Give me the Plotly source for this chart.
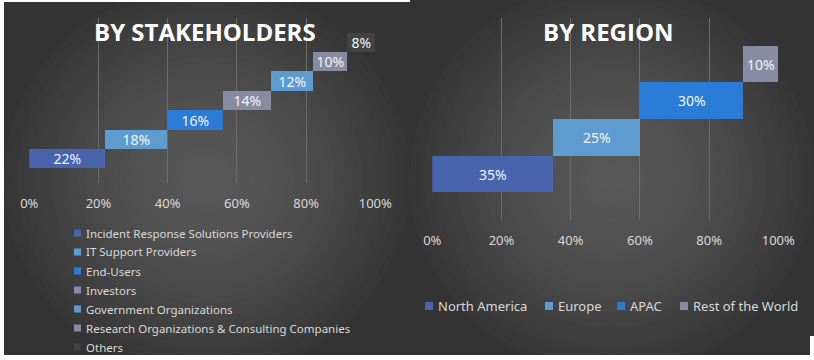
import plotly.graph_objects as go

W, H = 814, 360

# ---------------- data ----------------
stake_names = [
    "Incident Response Solutions Providers",
    "IT Support Providers",
    "End-Users",
    "Investors",
    "Government Organizations",
    "Research Organizations & Consulting Companies",
    "Others",
]
stake_values = [22, 18, 16, 14, 12, 10, 8]
stake_colors = ["#4864ad", "#5e9ccf", "#2a7cd6", "#878ca3", "#5e9ccf", "#878ca3", "#424242"]

region_names = ["North America", "Europe", "APAC", "Rest of the World"]
region_values = [35, 25, 30, 10]
region_colors = ["#4864ad", "#5e9ccf", "#2a7cd6", "#878ca3"]

tick_vals = [0, 20, 40, 60, 80, 100]
tick_text = ["0%", "20%", "40%", "60%", "80%", "100%"]

FONT = "Noto Sans, Open Sans, sans-serif"
TXT = "#d9d9d9"


def px(x):
    return x / W


def py(y):
    return 1 - y / H


fig = go.Figure()


def add_waterfall(names, values, colors, xa, ya):
    base = 0
    for i, (n, v, c) in enumerate(zip(names, values, colors)):
        fig.add_trace(go.Bar(
            y=[i], x=[v], base=[base], orientation="h", name=n,
            marker=dict(color=c, line=dict(width=0)), width=1,
            text=[f"{v}%"], textposition="inside", insidetextanchor="middle",
            textangle=0, constraintext="none",
            insidetextfont=dict(color="#f4f4f4", size=14, family=FONT),
            xaxis=xa, yaxis=ya, showlegend=False, hoverinfo="name+x",
        ))
        base += v


add_waterfall(stake_names, stake_values, stake_colors, "x", "y")
add_waterfall(region_names, region_values, region_colors, "x2", "y2")

xcommon = dict(range=[0, 100], tickvals=tick_vals, ticktext=tick_text, automargin=False,
               showgrid=True, gridcolor="#6c6c6c", gridwidth=1, zeroline=False,
               showline=False, ticks="outside", ticklen=8, tickcolor="rgba(0,0,0,0)",
               tickfont=dict(size=13, color=TXT, family=FONT), fixedrange=True)
ycommon = dict(visible=False, fixedrange=True, automargin=False)

# ---------------- background panels (radial-ish gradient) ----------------
shapes = []


def panel(x0, x1, y0, y1, cx, cy, rx, ry):
    shapes.append(dict(type="rect", xref="paper", yref="paper", x0=px(x0), x1=px(x1),
                       y0=py(y1), y1=py(y0), fillcolor="#333333", line=dict(width=0),
                       layer="below"))
    n = 30
    c0, c1 = 0x36, 0x58
    for k in range(n):
        f = 1 - k / n
        v = int(round(c0 + (c1 - c0) * (1 - f ** 1.6)))
        col = f"#{v:02x}{v:02x}{v:02x}"
        shapes.append(dict(type="circle", xref="paper", yref="paper",
                           x0=px(cx - rx * f), x1=px(cx + rx * f),
                           y0=py(cy + ry * f), y1=py(cy - ry * f),
                           fillcolor=col, line=dict(width=0), layer="below"))


panel(4, 410, 2, 355, 207, 180, 203, 195)
panel(410, 814, 0, 355, 612, 178, 202, 195)

# white page edges
for (a, b, c, d) in [(0, 814, 355, 360), (0, 4, 0, 360), (0, 410, 0, 2), (810, 814, 336, 360)]:
    shapes.append(dict(type="rect", xref="paper", yref="paper", x0=px(a), x1=px(b),
                       y0=py(d), y1=py(c), fillcolor="white", line=dict(width=0),
                       layer="below"))

# ---------------- legends (drawn compactly, as in the reference) ----------------
annotations = []
for k, (n, c) in enumerate(zip(stake_names, stake_colors)):
    yc = 233 + 19 * k
    shapes.append(dict(type="rect", xref="paper", yref="paper", x0=px(74), x1=px(81),
                       y0=py(yc + 3.5), y1=py(yc - 3.5), fillcolor=c, line=dict(width=0)))
    annotations.append(dict(xref="paper", yref="paper", x=px(84), y=py(yc),
                            xanchor="left", yanchor="middle", showarrow=False, text=n,
                            font=dict(size=11.5, color=TXT, family=FONT)))

reg_leg_x = [425, 545, 617, 680]
for n, c, lx in zip(region_names, region_colors, reg_leg_x):
    yc = 306
    shapes.append(dict(type="rect", xref="paper", yref="paper", x0=px(lx), x1=px(lx + 8),
                       y0=py(yc + 4), y1=py(yc - 4), fillcolor=c, line=dict(width=0)))
    annotations.append(dict(xref="paper", yref="paper", x=px(lx + 11), y=py(yc),
                            xanchor="left", yanchor="middle", showarrow=False, text=n,
                            font=dict(size=13, color=TXT, family=FONT)))

# titles
annotations.append(dict(xref="paper", yref="paper", x=px(205), y=py(31), xanchor="center",
                        yanchor="middle", showarrow=False, text="<b>BY STAKEHOLDERS</b>",
                        font=dict(size=24, color="white", family="Open Sans, sans-serif")))
annotations.append(dict(xref="paper", yref="paper", x=px(608), y=py(31), xanchor="center",
                        yanchor="middle", showarrow=False, text="<b>BY REGION</b>",
                        font=dict(size=24, color="white", family="Open Sans, sans-serif")))

fig.update_layout(
    template="none",
    width=W, height=H, autosize=False, margin=dict(l=0, r=0, t=0, b=0, pad=0),
    paper_bgcolor="white", plot_bgcolor="rgba(0,0,0,0)",
    barmode="overlay", bargap=0,
    uniformtext=dict(minsize=13, mode="show"),
    xaxis=dict(domain=[px(29.3), px(375.3)], anchor="y", **xcommon),
    yaxis=dict(domain=[py(183), py(18)], range=[-1.25, 7.25], anchor="x", **ycommon),
    xaxis2=dict(domain=[px(432.3), px(778.3)], anchor="y2", **xcommon),
    yaxis2=dict(domain=[py(220), py(18)], range=[-1.25, 4.25], anchor="x2", **ycommon),
    shapes=shapes, annotations=annotations,
    showlegend=False,
)

fig.write_html("out.html", config={"responsive": False, "displayModeBar": False},
               post_script="document.body.style.margin='0';document.body.style.overflow='hidden';")
